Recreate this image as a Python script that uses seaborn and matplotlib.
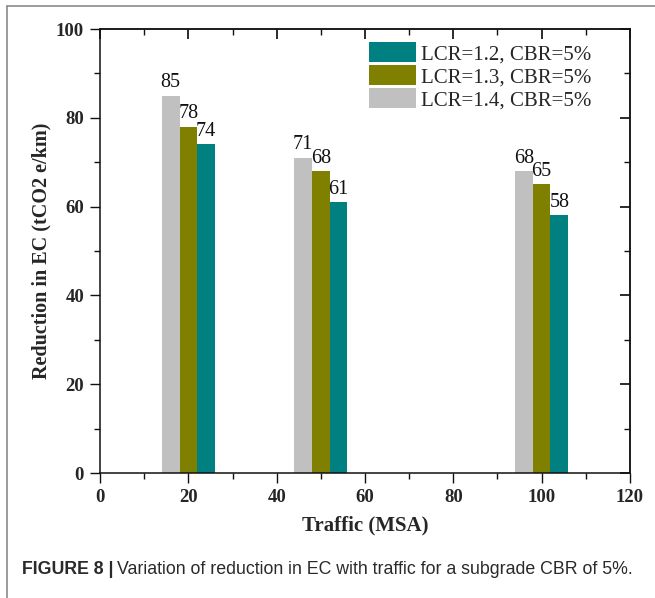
import matplotlib
matplotlib.use("Agg")
import matplotlib.pyplot as plt
from matplotlib.lines import Line2D
from matplotlib.patches import Patch
from matplotlib.ticker import MultipleLocator
import seaborn as sns
import pandas as pd

# Traffic levels (MSA) and EC reduction for each LCR at subgrade CBR 5%
traffic = [20, 50, 100]
lcr_levels = ["1.4", "1.3", "1.2"]
reduction_lcr14 = [85, 71, 68]
reduction_lcr13 = [78, 68, 65]
reduction_lcr12 = [74, 61, 58]

palette = {"1.2": "#008080", "1.3": "#808000", "1.4": "#C0C0C0"}

rows = []
for lcr, vals in zip(lcr_levels, [reduction_lcr14, reduction_lcr13, reduction_lcr12]):
    for t, v in zip(traffic, vals):
        rows.append({"Traffic": t, "LCR": lcr, "Reduction": v})
df = pd.DataFrame(rows)

sns.set_theme(style="ticks")
plt.rcParams["font.family"] = ["Liberation Serif", "DejaVu Serif"]
plt.rcParams["axes.linewidth"] = 1.1

fig = plt.figure(figsize=(6.55, 5.98), dpi=100)
ax = fig.add_axes([0.1527, 0.209, 0.8091, 0.7425])

sns.barplot(data=df, x="Traffic", y="Reduction", hue="LCR", hue_order=lcr_levels,
            palette=palette, native_scale=True, width=0.4, gap=0, saturation=1,
            errorbar=None, linewidth=0, edgecolor="none", legend=False, ax=ax)

for cont in ax.containers:
    ax.bar_label(cont, fmt="%d", padding=2.5, fontsize=14.5, color="#111111")

ax.set_xlim(0, 120)
ax.set_ylim(0, 100)
ax.xaxis.set_major_locator(MultipleLocator(20))
ax.xaxis.set_minor_locator(MultipleLocator(10))
ax.yaxis.set_major_locator(MultipleLocator(20))
ax.yaxis.set_minor_locator(MultipleLocator(10))
ax.tick_params(axis="both", which="both", direction="out", color="#111111",
               labelsize=13.5, width=1.0, pad=4.5)
ax.tick_params(axis="both", which="major", length=7)
ax.tick_params(axis="both", which="minor", length=4)
for lab in ax.get_xticklabels() + ax.get_yticklabels():
    lab.set_fontweight("bold")

# mirrored inward ticks on the top and right edges
top = ax.secondary_xaxis("top")
top.xaxis.set_major_locator(MultipleLocator(20))
top.xaxis.set_minor_locator(MultipleLocator(10))
top.tick_params(which="major", direction="in", length=7, labeltop=False, color="#111111")
top.tick_params(which="minor", direction="in", length=4, color="#111111")
right = ax.secondary_yaxis("right")
right.yaxis.set_major_locator(MultipleLocator(20))
right.yaxis.set_minor_locator(MultipleLocator(10))
right.tick_params(which="major", direction="in", length=7, labelright=False, color="#111111")
right.tick_params(which="minor", direction="in", length=4, color="#111111")
for sp in ax.spines.values():
    sp.set_visible(True)
    sp.set_color("#111111")

ax.set_xlabel("Traffic (MSA)", fontsize=15, fontweight="bold", labelpad=7)
ax.set_ylabel("Reduction in EC (tCO2 e/km)", fontsize=14.5, fontweight="bold", labelpad=3)

handles = [Patch(facecolor=palette[k], edgecolor="none") for k in ["1.2", "1.3", "1.4"]]
labels = [f"LCR={k}, CBR=5%" for k in ["1.2", "1.3", "1.4"]]
ax.legend(handles, labels, loc="upper left", bbox_to_anchor=(369 / 655, 1 - 42 / 598),
          bbox_transform=fig.transFigure, frameon=False, borderpad=0, borderaxespad=0,
          fontsize=15, handlelength=2.25, handleheight=1.1, handletextpad=0.25,
          labelspacing=0.05)

# page frame lines
fig.add_artist(Line2D([7 / 655, 7 / 655], [0, 1 - 6 / 598], color="#8a8a8a", lw=1.2))
fig.add_artist(Line2D([7 / 655, 1], [1 - 6 / 598, 1 - 6 / 598], color="#8a8a8a", lw=1.2))

cap_family = ["Liberation Sans Narrow", "Liberation Sans", "DejaVu Sans"]
t1 = fig.text(22 / 655, 1 - 569 / 598, "FIGURE 8 |", fontsize=12.8, fontweight="bold",
              family=cap_family, color="#2a2a2a", va="center", ha="left")
fig.canvas.draw()
bb = t1.get_window_extent()
fig.text(bb.x1 / fig.bbox.width + 0.006, 1 - 569 / 598,
         "Variation of reduction in EC with traffic for a subgrade CBR of 5%.",
         fontsize=12.75, family=cap_family, color="#2a2a2a", va="center", ha="left")

fig.savefig("out.png", dpi=100)
